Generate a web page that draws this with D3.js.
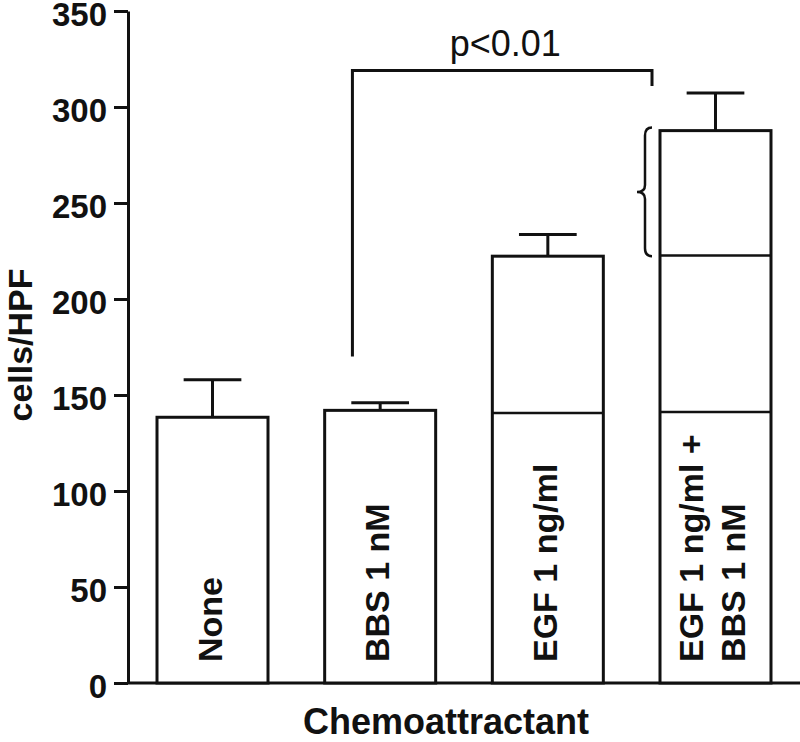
<!DOCTYPE html>
<html>
<head>
<meta charset="utf-8">
<script src="https://cdn.jsdelivr.net/npm/d3@7"></script>
<style>
  body { margin: 0; background: #fff; }
  svg text { font-family: "Liberation Sans", Arial, sans-serif; fill: #111; }
</style>
</head>
<body>
<div id="chart"></div>
<script>
// chart values
var categories = ["None", "BBS 1 nM", "EGF 1 ng/ml", "EGF 1 ng/ml + BBS 1 nM"];
var barLabels = [["None"], ["BBS 1 nM"], ["EGF 1 ng/ml"], ["EGF 1 ng/ml +", "BBS 1 nM"]];
var means = [138.4, 142, 222.3, 287.7];
var errUp = [19.6, 4, 11.3, 19.6];
var dividers = [[], [], [140.6], [141.2, 222.7]];
var yTicks = [0, 50, 100, 150, 200, 250, 300, 350];
var pLabel = "p<0.01";

var W = 800, H = 742;
var svg = d3.select("#chart").append("svg")
    .attr("width", W).attr("height", H);

var x = d3.scaleBand().domain(categories)
    .range([128, 800]).paddingInner(0.338).paddingOuter(0.173);
var y = d3.scaleLinear().domain([0, 350]).range([683, 11]);
var bw = x.bandwidth();
var ink = "#111";

// y axis
var yAxis = svg.append("g").attr("transform", "translate(128,0)")
    .call(d3.axisLeft(y).tickValues(yTicks).tickSize(14).tickPadding(7).tickSizeOuter(0));
yAxis.select(".domain").attr("stroke", ink).attr("stroke-width", 3);
yAxis.selectAll(".tick line").attr("stroke", ink).attr("stroke-width", 3);
yAxis.selectAll(".tick text")
    .attr("dy", "0.45em")
    .style("font-size", "33px").style("font-weight", "bold").attr("fill", ink);

// x axis line
svg.append("line").attr("x1", 128).attr("x2", 800)
    .attr("y1", y(0)).attr("y2", y(0))
    .attr("stroke", ink).attr("stroke-width", 3);

var data = categories.map(function(c, i) {
  return {cat: c, mean: means[i], err: errUp[i], div: dividers[i], lab: barLabels[i]};
});

var g = svg.selectAll(".bar").data(data).enter().append("g").attr("class", "bar");

// error bars (drawn under the box)
g.append("line")
    .attr("x1", function(d) { return x(d.cat) + bw / 2; })
    .attr("x2", function(d) { return x(d.cat) + bw / 2; })
    .attr("y1", function(d) { return y(d.mean); })
    .attr("y2", function(d) { return y(d.mean + d.err); })
    .attr("stroke", ink).attr("stroke-width", 3);
g.append("line")
    .attr("x1", function(d) { return x(d.cat) + bw / 2 - bw * 0.26; })
    .attr("x2", function(d) { return x(d.cat) + bw / 2 + bw * 0.26; })
    .attr("y1", function(d) { return y(d.mean + d.err); })
    .attr("y2", function(d) { return y(d.mean + d.err); })
    .attr("stroke", ink).attr("stroke-width", 3);

g.append("rect")
    .attr("x", function(d) { return x(d.cat); })
    .attr("y", function(d) { return y(d.mean); })
    .attr("width", bw)
    .attr("height", function(d) { return y(0) - y(d.mean); })
    .attr("fill", "#fff").attr("stroke", ink).attr("stroke-width", 3);

// inner stacked dividers
g.each(function(d) {
  d3.select(this).selectAll(".div").data(d.div).enter().append("line")
      .attr("x1", x(d.cat)).attr("x2", x(d.cat) + bw)
      .attr("y1", function(v) { return y(v); })
      .attr("y2", function(v) { return y(v); })
      .attr("stroke", ink).attr("stroke-width", 2.5);
});

// rotated bar labels
g.each(function(d) {
  var n = d.lab.length;
  var cx = x(d.cat) + bw / 2 - 3;
  var t = d3.select(this).append("text")
      .attr("transform", "translate(" + cx + "," + (y(0) - 21) + ") rotate(-90)")
      .style("font-size", "34px").style("font-weight", "bold");
  d.lab.forEach(function(s, j) {
    t.append("tspan").attr("x", 0)
        .attr("y", (j - (n - 1) / 2) * 42 + 12)
        .text(s);
  });
});

// significance bracket
var bx1 = x(categories[1]) + bw * 0.25;
var bx2 = x(categories[3]) - 8;
svg.append("path")
    .attr("d", "M" + bx1 + "," + y(170) + "V" + y(319) + "H" + bx2 + "V" + y(311))
    .attr("fill", "none").attr("stroke", ink).attr("stroke-width", 3);
svg.append("text")
    .attr("x", (bx1 + bx2) / 2 + 3).attr("y", 56)
    .attr("text-anchor", "middle")
    .style("font-size", "36px")
    .text(pLabel);

// curly brace on combined bar (EGF part to combined top)
var bTop = y(means[3]) - 3, bBot = y(means[2]);
var bMid = (bTop + bBot) / 2;
var bxr = x(categories[3]) - 8, bxv = bxr - 7, bxl = bxr - 15;
svg.append("path")
    .attr("d", "M" + bxr + "," + bTop +
      " Q" + bxv + "," + bTop + " " + bxv + "," + (bTop + 8) +
      " V" + (bMid - 7) +
      " Q" + bxv + "," + bMid + " " + bxl + "," + bMid +
      " Q" + bxv + "," + bMid + " " + bxv + "," + (bMid + 7) +
      " V" + (bBot - 8) +
      " Q" + bxv + "," + bBot + " " + bxr + "," + bBot)
    .attr("fill", "none").attr("stroke", ink).attr("stroke-width", 2.5);

// axis titles
svg.append("text")
    .attr("transform", "translate(32,345) rotate(-90)")
    .attr("text-anchor", "middle")
    .style("font-size", "34px").style("font-weight", "bold")
    .text("cells/HPF");
svg.append("text")
    .attr("x", 446).attr("y", 734)
    .attr("text-anchor", "middle")
    .style("font-size", "36px").style("font-weight", "bold")
    .text("Chemoattractant");
</script>
</body>
</html>
